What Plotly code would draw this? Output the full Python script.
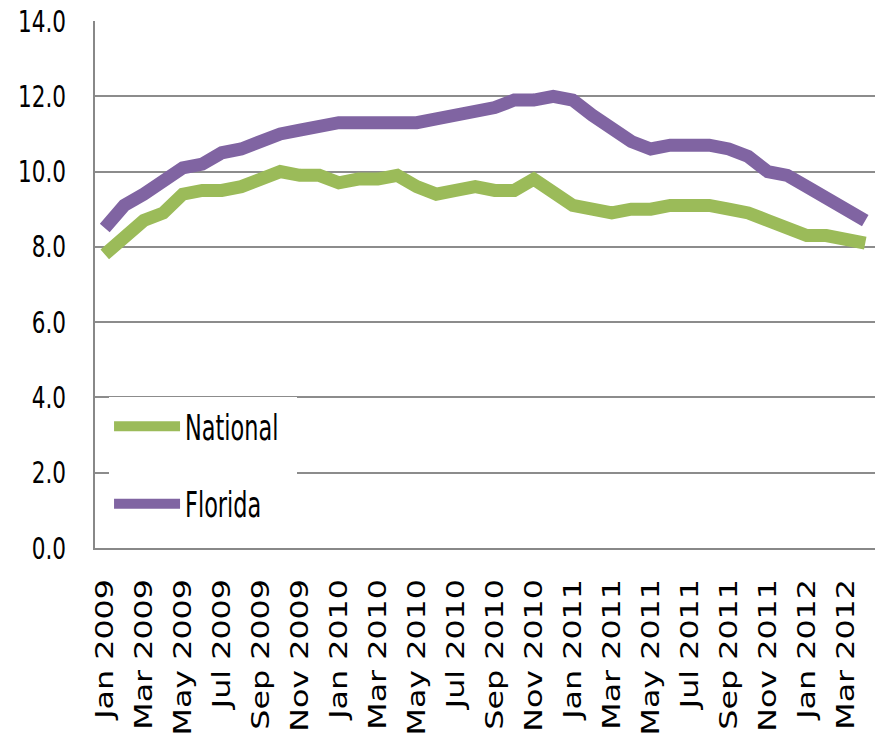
import plotly.graph_objects as go

months = ["Jan", "Feb", "Mar", "Apr", "May", "Jun", "Jul", "Aug", "Sep", "Oct", "Nov", "Dec"]
categories = [f"{m} {y}" for y in (2009, 2010, 2011) for m in months] + \
             ["Jan 2012", "Feb 2012", "Mar 2012", "Apr 2012"]

national = [7.8, 8.3, 8.7, 8.9, 9.4, 9.5, 9.5, 9.6, 9.8, 10.0, 9.9, 9.9,
            9.7, 9.8, 9.8, 9.9, 9.6, 9.4, 9.5, 9.6, 9.5, 9.5, 9.8, 9.4,
            9.1, 9.0, 8.9, 9.0, 9.0, 9.1, 9.1, 9.1, 9.0, 8.9, 8.7, 8.5,
            8.3, 8.3, 8.2, 8.1]

florida = [8.5, 9.1, 9.4, 9.8, 10.1, 10.2, 10.5, 10.6, 10.8, 11.0, 11.1, 11.2,
           11.3, 11.3, 11.3, 11.3, 11.3, 11.4, 11.5, 11.6, 11.7, 11.9, 11.9, 12.0,
           11.9, 11.5, 11.1, 10.8, 10.6, 10.7, 10.7, 10.7, 10.6, 10.4, 10.0, 9.9,
           9.6, 9.3, 9.0, 8.7]

tick_labels = categories[::2]
y_ticks = [0, 2, 4, 6, 8, 10, 12, 14]

FONT = "DejaVu Sans, Verdana, sans-serif"

fig = go.Figure()
fig.add_trace(go.Scatter(x=categories, y=national, name="National", mode="lines",
                         line=dict(color="#9BBB59", width=13),
                         legendgroup="n"))
fig.add_trace(go.Scatter(x=categories, y=florida, name="Florida", mode="lines",
                         line=dict(color="#8064A2", width=13),
                         legendgroup="f"))

fig.update_layout(
    width=875, height=741,
    margin=dict(l=95, r=0, t=21, b=193, autoexpand=False),
    paper_bgcolor="white", plot_bgcolor="white",
    showlegend=True,
    legend=dict(x=0.018, y=0.2866, xanchor="left", yanchor="top",
                bgcolor="white", font=dict(family=FONT, size=35, color="black"),
                traceorder="grouped", tracegroupgap=29, itemwidth=66),
    xaxis=dict(type="category", categoryorder="array", categoryarray=categories,
               range=[-0.5, len(categories) - 0.5], automargin=False,
               tickmode="array", tickvals=tick_labels, ticktext=tick_labels,
               tickangle=-90, showgrid=False, showline=True, linecolor="#888888",
               linewidth=2, ticks="", ticklabelstandoff=19,
               tickfont=dict(family=FONT, size=25, color="black")),
    yaxis=dict(range=[0, 14], tickmode="array", tickvals=y_ticks, automargin=False,
               ticktext=[f"{v:.1f}" for v in y_ticks],
               showgrid=True, gridcolor="#8c8c8c", gridwidth=2,
               showline=True, linecolor="#888888", linewidth=2,
               zeroline=False, ticks="", ticklabelstandoff=21,
               tickfont=dict(family=FONT, size=30, color="black")),
)

post_js = """
document.body.style.margin = '0';
document.body.style.overflow = 'hidden';
var gd = document.getElementById('{plot_id}');
function scaleText(el, sx, sy, anchorEnd) {
  var t = el.getAttribute('transform') || '';
  if (t.indexOf('scale(') >= 0) return;
  var b = el.getBBox();
  var px = anchorEnd ? b.x + b.width : b.x;
  var py = b.y + b.height / 2;
  el.setAttribute('transform', t + ' translate(' + px + ',' + py + ') scale(' + sx + ',' + sy +
                  ') translate(' + (-px) + ',' + (-py) + ')');
}
function fixAll() {
  gd.querySelectorAll('.xtick text').forEach(function (el) { scaleText(el, 1.27, 1, true); });
  gd.querySelectorAll('.ytick text').forEach(function (el) { scaleText(el, 0.72, 1, true); });
  var maxRight = 0;
  gd.querySelectorAll('.legend .legendtext').forEach(function (el) {
    scaleText(el, 0.64, 1, false);
    maxRight = Math.max(maxRight, el.getBoundingClientRect().right);
  });
  var bg = gd.querySelector('.legend rect.bg');
  if (bg && maxRight > 0) {
    var left = bg.getBoundingClientRect().left;
    bg.setAttribute('width', Math.max(10, maxRight + 19 - left));
  }
}
fixAll();
gd.on('plotly_afterplot', fixAll);
"""

fig.write_html("out.html", post_script=post_js, config={"displayModeBar": False})
